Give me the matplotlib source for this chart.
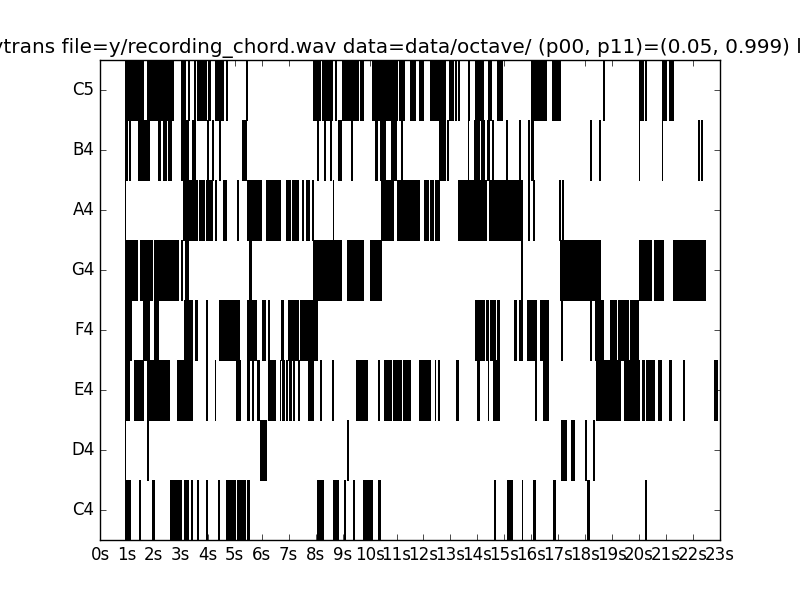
import matplotlib
matplotlib.use("Agg")
import matplotlib.pyplot as plt

# notes from bottom to top
notes = ["C4", "D4", "E4", "F4", "G4", "A4", "B4", "C5"]
n_secs = 23
sec_labels = ["%ds" % s for s in range(n_secs + 1)]

# active intervals (start, end) in seconds
c4 = [(0.91, 1.11), (1.44, 1.47), (1.94, 2.02), (2.61, 2.85), (2.88, 3.02), (3.11, 3.26),
      (3.37, 3.43), (3.61, 3.64), (3.93, 3.96), (4.37, 4.43), (4.69, 4.81), (4.84, 4.99),
      (5.08, 5.37), (5.46, 5.54), (8.04, 8.27), (8.65, 8.83), (9.04, 9.09), (9.39, 9.42),
      (9.74, 10.09), (10.33, 10.39), (14.61, 14.67), (15.08, 15.29), (15.64, 15.67),
      (16.08, 16.14), (16.81, 16.87), (18.07, 18.13), (20.21, 20.27)]
d4 = [(0.91, 0.93), (1.76, 1.78), (5.93, 6.16), (9.18, 9.20), (17.10, 17.28),
      (17.46, 17.57), (18.01, 18.04), (18.28, 18.31)]
e4 = [(0.91, 1.06), (1.26, 1.61), (1.73, 2.11), (2.17, 2.55), (2.85, 3.40), (3.93, 3.96),
      (4.25, 4.28), (5.05, 5.19), (5.46, 5.52), (5.63, 5.66), (5.84, 5.90), (6.25, 6.51),
      (6.66, 6.69), (6.75, 6.78), (6.81, 6.84), (6.89, 6.95), (7.01, 7.07), (7.16, 7.19),
      (7.33, 7.39), (7.72, 7.89), (8.16, 8.21), (8.60, 8.63), (9.51, 9.89), (10.33, 10.36),
      (10.53, 10.59), (10.62, 10.80), (10.88, 11.15), (11.24, 11.50), (11.85, 12.23),
      (12.41, 12.44), (12.53, 12.56), (13.20, 13.29), (13.97, 14.05), (14.38, 14.41),
      (14.58, 14.82), (16.14, 16.17), (16.43, 16.49), (16.55, 16.61), (18.40, 18.57),
      (18.60, 19.28), (19.45, 19.98), (20.10, 20.18), (20.27, 20.57), (20.71, 20.80),
      (21.12, 21.18), (21.62, 21.65), (22.77, 22.88)]
f4 = [(0.91, 1.14), (1.58, 1.70), (1.76, 1.82), (2.02, 2.14), (3.11, 3.40), (3.52, 3.58),
      (3.93, 3.96), (4.43, 4.66), (4.69, 5.16), (5.46, 5.78), (6.01, 6.13), (6.22, 6.28),
      (6.72, 6.78), (6.98, 7.19), (7.22, 7.33), (7.42, 8.04), (13.91, 14.23), (14.32, 14.41),
      (14.46, 14.64), (14.73, 14.79), (15.37, 15.43), (15.55, 15.64), (15.84, 16.19),
      (16.31, 16.37), (16.40, 16.46), (16.52, 16.61), (17.10, 17.13), (18.19, 18.22),
      (18.37, 18.66), (18.92, 19.16), (19.22, 19.57), (19.66, 19.95)]
g4 = [(0.91, 1.38), (1.47, 1.94), (2.00, 2.88), (2.99, 3.05), (3.17, 3.26), (5.54, 5.60),
      (7.92, 8.95), (9.15, 9.74), (10.00, 10.30), (10.36, 10.44), (15.61, 15.64),
      (17.05, 18.54), (19.98, 20.45), (20.54, 20.89), (21.24, 22.44)]
a4 = [(0.91, 0.94), (3.08, 3.58), (3.67, 3.87), (3.93, 4.14), (4.25, 4.31), (4.55, 4.66),
      (5.08, 5.13), (5.46, 5.96), (6.16, 6.69), (6.89, 7.04), (7.13, 7.36), (7.51, 7.54),
      (7.63, 7.75), (7.86, 7.89), (8.63, 8.65), (10.42, 10.88), (11.00, 11.85),
      (12.03, 12.18), (12.26, 12.35), (12.44, 12.56), (13.29, 14.32), (14.43, 15.64),
      (15.87, 15.93), (16.05, 16.11), (17.02, 17.08), (17.13, 17.19)]
b4 = [(0.91, 1.00), (1.06, 1.11), (1.41, 1.44), (1.47, 1.82), (2.17, 2.23), (2.32, 2.46),
      (2.52, 2.64), (3.02, 3.26), (3.43, 3.52), (3.96, 3.99), (4.14, 4.18), (4.43, 4.46),
      (5.25, 5.40), (8.04, 8.10), (8.30, 8.33), (8.54, 8.57), (8.83, 8.95), (9.30, 9.33),
      (10.21, 10.27), (10.39, 10.56), (10.80, 10.97), (11.15, 11.21), (12.59, 12.79),
      (12.88, 12.91), (13.64, 13.67), (13.88, 14.05), (14.14, 14.23), (14.35, 14.43),
      (14.55, 14.58), (15.05, 15.08), (15.55, 15.58), (15.87, 15.93), (15.99, 16.05),
      (18.19, 18.22), (18.51, 18.54), (19.98, 20.01), (20.83, 20.86), (22.18, 22.21),
      (22.30, 22.33)]
c5 = [(0.91, 1.58), (1.73, 2.61), (2.64, 2.70), (3.02, 3.17), (3.26, 3.30), (3.49, 3.52),
      (3.58, 3.93), (3.99, 4.02), (4.05, 4.08), (4.25, 4.55), (4.66, 4.72), (5.40, 5.44),
      (7.92, 8.16), (8.24, 8.60), (8.71, 8.76), (8.98, 9.56), (9.65, 9.71), (9.74, 9.77),
      (10.09, 11.00), (11.09, 11.27), (11.50, 11.68), (11.85, 12.00), (12.26, 12.79),
      (12.94, 13.11), (13.17, 13.20), (13.29, 13.32), (13.64, 13.69), (13.91, 14.20),
      (14.41, 14.52), (14.73, 14.93), (15.99, 16.55), (16.75, 17.05), (18.66, 18.69),
      (19.98, 20.16), (20.21, 20.24), (20.83, 21.01), (21.09, 21.27)]

rolls = [c4, d4, e4, f4, g4, a4, b4, c5]

plt.style.use("classic")
fig = plt.figure(figsize=(8, 6), facecolor="white")
ax = fig.add_subplot(111)

for i, segs in enumerate(rolls):
    ax.broken_barh([(a, b - a) for a, b in segs], (i - 0.5, 1.0),
                   facecolors="black", edgecolors="black", linewidth=0.5,
                   antialiased=False)

ax.set_xlim(0, n_secs)
ax.set_ylim(-0.5, len(notes) - 0.5)
ax.set_xticks(range(n_secs + 1))
ax.set_xticklabels(sec_labels)
ax.set_yticks(range(len(notes)))
ax.set_yticklabels(notes)
ax.set_title("polytrans file=y/recording_chord.wav data=data/octave/ "
             "(p00, p11)=(0.05, 0.999) lr=0.1")

fig.savefig("out.png", dpi=100, facecolor="white")
